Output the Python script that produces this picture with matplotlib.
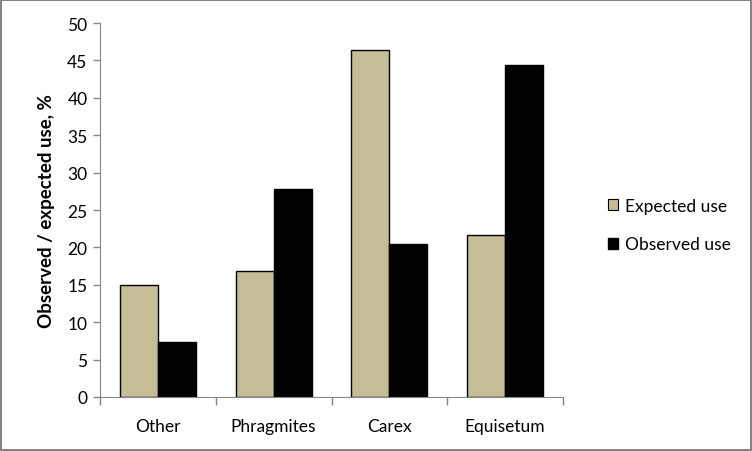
import numpy as np
import matplotlib
matplotlib.use('Agg')
import matplotlib.pyplot as plt
from matplotlib.patches import Patch

plt.rcParams['font.family'] = ['Lato', 'DejaVu Sans']

categories = ["Other", "Phragmites", "Carex", "Equisetum"]
expected_use = [15.0, 16.9, 46.4, 21.6]
observed_use = [7.35, 27.8, 20.45, 44.4]

tan = "#C4BD97"
axis_grey = "#868686"

fig = plt.figure(figsize=(7.52, 4.52), dpi=100)
fig.patch.set_edgecolor(axis_grey)
fig.patch.set_linewidth(1.5)
ax = fig.add_axes([100 / 752, 54 / 452, 463 / 752, 374 / 452])

x = np.arange(len(categories))
w = 0.328
ax.bar(x - w / 2, expected_use, w, color=tan, edgecolor="black", linewidth=1.0, label="Expected use")
ax.bar(x + w / 2, observed_use, w, color="black", edgecolor="black", linewidth=1.0, label="Observed use")

ax.set_xlim(-0.5, len(categories) - 0.5)
ax.set_ylim(0, 50)
ax.set_yticks(np.arange(0, 51, 5))
ax.set_xticks(x)
ax.set_xticklabels(categories, fontsize=12.5)
ax.set_xticks(np.arange(-0.5, len(categories), 1.0), minor=True)
ax.tick_params(axis="x", which="major", length=0, pad=15)
ax.tick_params(axis="x", which="minor", length=6, color=axis_grey, width=1)
ax.tick_params(axis="y", length=5, color=axis_grey, width=1, labelsize=12.5, pad=4)
ax.spines["top"].set_visible(False)
ax.spines["right"].set_visible(False)
ax.spines["left"].set_color(axis_grey)
ax.spines["bottom"].set_color(axis_grey)

ax.set_ylabel("Observed / expected use, %", fontsize=13.5, fontweight="bold", labelpad=9)

handles = [Patch(facecolor=tan, edgecolor="black", linewidth=0.8),
           Patch(facecolor="black", edgecolor="black")]
fig.legend(handles, ["Expected use", "Observed use"], loc="center left",
           bbox_to_anchor=(592 / 752, 226 / 452), frameon=False, fontsize=12.5,
           handlelength=0.6, handleheight=0.6, handletextpad=0.4, labelspacing=1.3)

fig.savefig("out.png", dpi=100)
